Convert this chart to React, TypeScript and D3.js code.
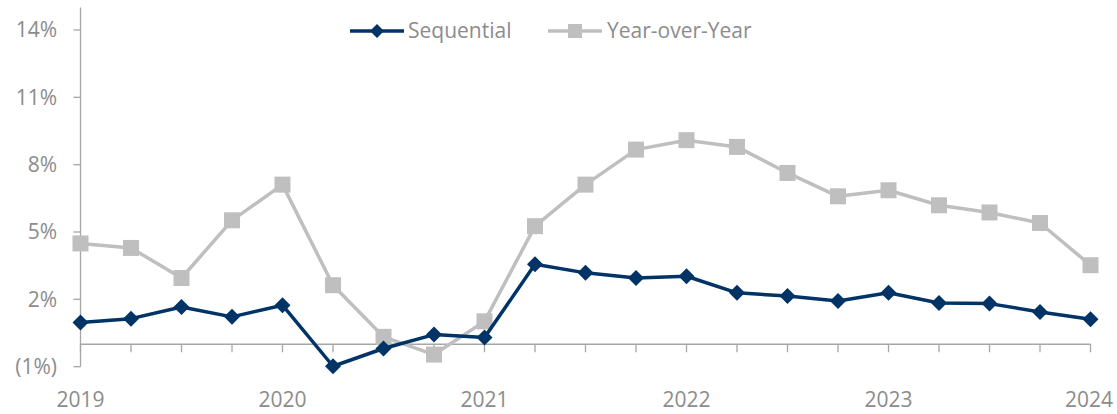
import React from "react";
import * as d3 from "d3";

const quarters = [
  "2019Q1","2019Q2","2019Q3","2019Q4",
  "2020Q1","2020Q2","2020Q3","2020Q4",
  "2021Q1","2021Q2","2021Q3","2021Q4",
  "2022Q1","2022Q2","2022Q3","2022Q4",
  "2023Q1","2023Q2","2023Q3","2023Q4",
  "2024Q1",
];
const sequential = [0.97, 1.14, 1.66, 1.22, 1.74, -0.98, -0.19, 0.43, 0.3, 3.56, 3.18, 2.95, 3.03, 2.29, 2.15, 1.93, 2.29, 1.84, 1.81, 1.44, 1.11];
const yearOverYear = [4.49, 4.29, 2.95, 5.52, 7.11, 2.63, 0.33, -0.46, 1.02, 5.26, 7.11, 8.67, 9.09, 8.79, 7.63, 6.59, 6.86, 6.19, 5.87, 5.4, 3.52];
const yTicks = [-1, 2, 5, 8, 11, 14];
const yearLabels = ["2019", "2020", "2021", "2022", "2023", "2024"];
const seriesNames = ["Sequential", "Year-over-Year"];

const NAVY = "#003366";
const GRAY = "#BFBFBF";
const AXIS = "#A6A6A6";
const TEXT = "#8C8C8C";
const FONT = "'Open Sans', 'Noto Sans', sans-serif";
const FS = 21;

export default function App() {
  const W = 1117, H = 414;
  const x = d3.scaleLinear().domain([0, quarters.length - 1]).range([80.5, 1090.5]);
  const y = d3.scaleLinear().domain([-1, 15]).range([366.7, 7.5]);
  const line = d3.line<number>().x((_, i) => x(i)).y((d) => y(d));
  const fmt = (v: number) => (v < 0 ? `(${Math.abs(v)}%)` : `${v}%`);
  const diamond = (cx: number, cy: number, r: number) =>
    `M${cx},${cy - r}L${cx + r},${cy}L${cx},${cy + r}L${cx - r},${cy}Z`;
  const y0 = y(0);
  const ax = x(0);

  return (
    <svg width={W} height={H} style={{ position: "absolute", left: 0, top: 0, background: "#fff" }}>
      {/* y axis */}
      <line x1={ax} x2={ax} y1={y(15)} y2={y(-1)} stroke={AXIS} strokeWidth={1.3} />
      {yTicks.map((t) => (
        <g key={t}>
          <line x1={ax - 7} x2={ax} y1={y(t)} y2={y(t)} stroke={AXIS} strokeWidth={1.3} />
          <text x={57} y={y(t)} dy="0.35em" textAnchor="end" fill={TEXT} fontFamily={FONT} fontSize={FS}>
            {fmt(t)}
          </text>
        </g>
      ))}
      {/* x axis */}
      <line x1={ax} x2={x(quarters.length - 1)} y1={y0} y2={y0} stroke={AXIS} strokeWidth={1.3} />
      {quarters.map((q, i) => (
        <line key={q} x1={x(i)} x2={x(i)} y1={y0} y2={y0 + 8} stroke={AXIS} strokeWidth={1.3} />
      ))}
      {yearLabels.map((lab, k) => {
        const i = k * 4;
        const last = k === yearLabels.length - 1;
        return (
          <text key={lab} x={last ? 1113 : x(i)} y={400} dy="0.35em" textAnchor={last ? "end" : "middle"} fill={TEXT} fontFamily={FONT} fontSize={FS}>
            {lab}
          </text>
        );
      })}
      {/* YoY series */}
      <path d={line(yearOverYear) || ""} fill="none" stroke={GRAY} strokeWidth={3.5} strokeLinejoin="round" />
      {yearOverYear.map((v, i) => (
        <rect key={i} x={x(i) - 8} y={y(v) - 8} width={16} height={16} fill={GRAY} />
      ))}
      {/* Sequential series */}
      <path d={line(sequential) || ""} fill="none" stroke={NAVY} strokeWidth={3.5} strokeLinejoin="round" />
      {sequential.map((v, i) => (
        <path key={i} d={diamond(x(i), y(v), 8)} fill={NAVY} />
      ))}
      {/* legend */}
      <g>
        <line x1={350} x2={404} y1={31} y2={31} stroke={NAVY} strokeWidth={3.5} />
        <path d={diamond(377, 31, 7)} fill={NAVY} />
        <text x={408} y={31} dy="0.35em" fill={TEXT} fontFamily={FONT} fontSize={FS}>{seriesNames[0]}</text>
        <line x1={548} x2={602} y1={31} y2={31} stroke={GRAY} strokeWidth={3.5} />
        <rect x={568} y={24} width={14} height={14} fill={GRAY} />
        <text x={607} y={31} dy="0.35em" fill={TEXT} fontFamily={FONT} fontSize={FS}>{seriesNames[1]}</text>
      </g>
    </svg>
  );
}
